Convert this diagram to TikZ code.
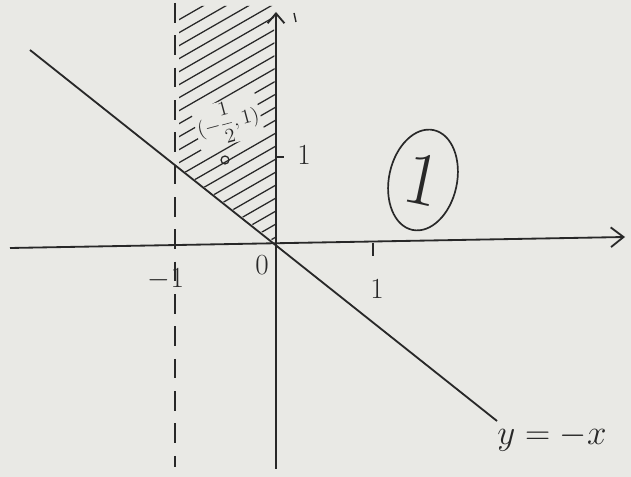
\documentclass[tikz,border=0pt]{standalone}
\usetikzlibrary{arrows.meta,shapes.geometric}
\definecolor{paper}{RGB}{233,233,229}
\definecolor{pencil}{RGB}{40,40,40}
\tikzset{
  axis/.style={pencil,line width=1.3pt},
  hatch/.style={pencil,line width=0.9pt},
  lbl/.style={pencil,font=\huge,inner sep=1pt},
}
\begin{document}
\begin{tikzpicture}[x=0.025cm,y=-0.025cm]
  \fill[paper] (0,0) rectangle (631,477);
  \useasboundingbox (0,0) rectangle (631,477);
  \coordinate (xl) at (10,248);
  \coordinate (xr) at (625,237);
  \coordinate (yb) at (276,469);
  \coordinate (yt) at (276,12);
  \coordinate (O) at (276,243);
  \coordinate (dt) at (175,3);
  \coordinate (db) at (175,467);
  \coordinate (ll) at (30,50);
  \coordinate (lr) at (497,421);
  % hatched region
  \begin{scope}
    \clip (179,167) -- (O) -- (274,6) -- (179,6) -- cycle;
    \foreach \c in {22,35,...,330}
      \draw[hatch] (175,\c) -- (276,\c-58);
  \end{scope}
  \draw[axis,-{Straight Barb[length=9pt,width=14pt]}] (xl) -- (xr);
  \draw[axis,-{Straight Barb[length=7pt,width=12pt]}] (yb) -- (yt);
  \draw[axis,dash pattern=on 14pt off 9pt] (dt) -- (db);
  \draw[axis] (ll) -- (lr);
  \draw[axis] (373,243) -- (373,256);
  \draw[axis] (276,157) -- (284,157);
  \draw[pencil,line width=1pt] (294,13) -- (296,22);
  \node[pencil,fill=paper,rotate=15,inner sep=1pt,font=\Large] (pt lbl) at (228,122) {$\displaystyle(-\frac{1}{2},1)$};
  \node[pencil,draw,circle,line width=0.9pt,inner sep=2pt] (pt) at (225,160) {};
  \node[lbl] (m1) at (166,279) {$-1$};
  \node[lbl] (zero) at (262,265) {0};
  \node[lbl] (one x) at (377,289) {1};
  \node[lbl] (one y) at (304,155) {1};
  \node[pencil,draw,ellipse,line width=1.2pt,rotate=-12,inner sep=0pt,minimum width=1.7cm,minimum height=2.55cm,font=\fontsize{54}{54}\selectfont] (reg) at (423,180) {1};
  \node[pencil,font=\Huge] (eq) at (552,438) {$y=-x$};
\end{tikzpicture}
\end{document}
